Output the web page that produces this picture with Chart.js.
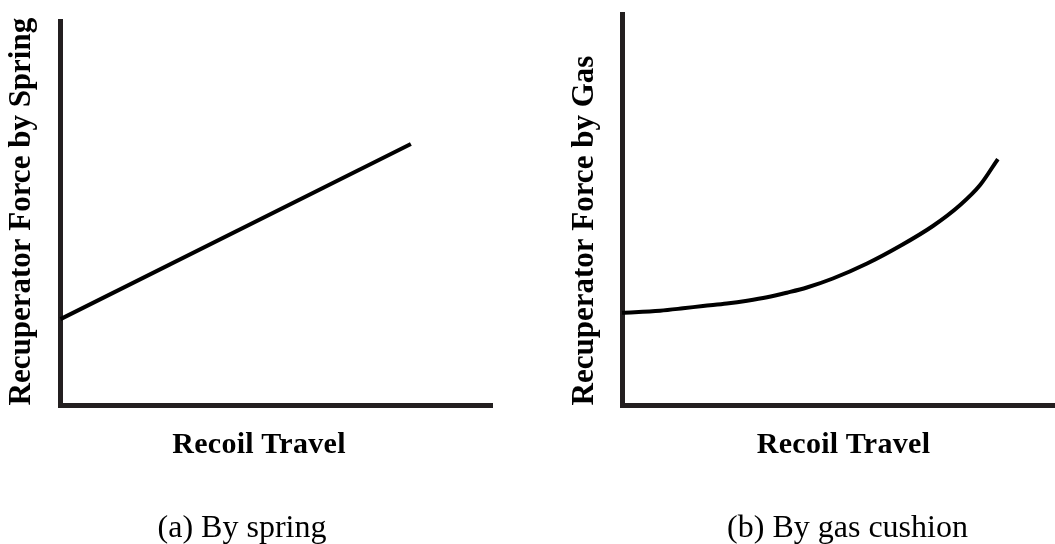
<!DOCTYPE html>
<html><head><meta charset="utf-8">
<script src="https://cdn.jsdelivr.net/npm/chart.js@4.4.0/dist/chart.umd.min.js"></script>
<style>
html,body{margin:0;padding:0;background:#fff;}
body{width:1055px;height:544px;position:relative;overflow:hidden;font-family:"Liberation Serif","Times New Roman",serif;}
.box{position:absolute;top:0;height:544px;}
.lbl{position:absolute;white-space:nowrap;color:#000;transform:translateX(-50%);}
.xt{font-weight:bold;font-size:30px;line-height:30px;letter-spacing:0.3px;top:427.6px;}
.cap{font-size:32px;line-height:32px;top:509.8px;}
</style></head>
<body>
<div class="box" style="left:0;width:527px"><canvas id="c1" width="527" height="544"></canvas></div>
<div class="box" style="left:527px;width:528px"><canvas id="c2" width="528" height="544"></canvas></div>
<div id="xt1" class="lbl xt" style="left:259px"></div>
<div id="xt2" class="lbl xt" style="left:843.5px"></div>
<div id="cap1" class="lbl cap" style="left:242px"></div>
<div id="cap2" class="lbl cap" style="left:847.5px"></div>
<script>
// ---- data (arbitrary units 0-100) ----
const springTravel = [0, 81.1];
const springForce  = [22.5, 68.1];
const gasTravel = [0, 8.8, 14.1, 18.7, 24.2, 28.9, 33.5, 38.1, 42.7, 48.7, 56.6, 64.2, 71.8, 78.1, 82.7, 86.8];
const gasForce  = [23.7, 24.25, 24.86, 25.45, 26.09, 26.8, 27.67, 28.85, 30.18, 32.48, 36.32, 40.79, 45.91, 51.28, 56.39, 63.04];
const xTitles   = ["Recoil Travel", "Recoil Travel"];
const yTitles   = ["Recuperator Force by Spring", "Recuperator Force by Gas"];
const captions  = ["(a) By spring", "(b) By gas cushion"];

document.getElementById('xt1').textContent = xTitles[0];
document.getElementById('xt2').textContent = xTitles[1];
document.getElementById('cap1').textContent = captions[0];
document.getElementById('cap2').textContent = captions[1];

const AXIS = '#231f20';
function pts(xs, ys){ return xs.map((x,i)=>({x:x, y:ys[i]})); }

function makeChart(id, xs, ys, yTitle, pad, titlePad, align){
  return new Chart(document.getElementById(id), {
    type: 'line',
    data: { datasets: [{
      data: pts(xs, ys),
      borderColor: '#000', borderWidth: 4, pointRadius: 0,
      fill: false, cubicInterpolationMode: 'monotone', clip: false
    }]},
    options: {
      responsive: false, animation: false,
      layout: { padding: pad },
      plugins: { legend: {display:false}, tooltip: {enabled:false}, title:{display:false} },
      scales: {
        x: { type:'linear', min:0, max:100,
             grid:{display:false, drawTicks:false, tickLength:0},
             ticks:{display:false},
             border:{display:true, width:5, color:AXIS},
             title:{display:false} },
        y: { type:'linear', min:0, max:100,
             grid:{display:false, drawTicks:false, tickLength:0},
             ticks:{display:false},
             border:{display:true, width:5, color:AXIS},
             title:{display:true, text:yTitle, color:'#000', align:align,
                    font:{family:'"Liberation Serif", "Times New Roman", serif', size:31, weight:'bold', lineHeight:1.2},
                    padding: titlePad } }
      }
    }
  });
}

makeChart('c1', springTravel, springForce, yTitles[0],
  {left:0, top:21.5, right:34.5, bottom:138.5}, {top:3.4, bottom:19.9}, 'start');
makeChart('c2', gasTravel, gasForce, yTitles[1],
  {left:0, top:14.5, right:0, bottom:138.5}, {top:39.4, bottom:18.4}, 'start');
</script>
</body></html>
